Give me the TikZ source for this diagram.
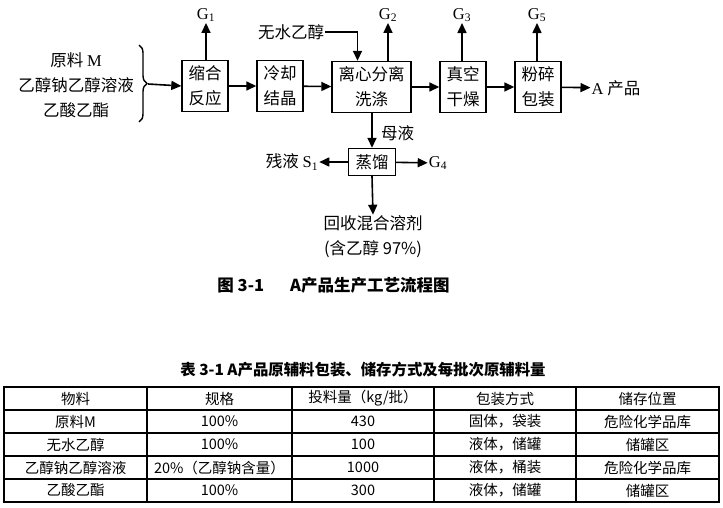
\documentclass[tikz,border=0pt]{standalone}
\usepackage{fontspec}
\setmainfont{Noto Sans CJK SC}
\newfontfamily\lat{Liberation Serif}
\usetikzlibrary{arrows.meta,decorations.pathreplacing}

\begin{document}
\begin{tikzpicture}[x=1pt,y=-1pt,
  box/.style={draw, line width=1.4pt, minimum width=46pt, minimum height=51pt, inner sep=0pt, align=center, font=\fontsize{16.5}{25}\selectfont},
  txt/.style={inner sep=1pt, align=center, font=\fontsize{16.5}{25}\selectfont},
  cell/.style={inner sep=0pt, font=\fontsize{14.5}{16}\selectfont},
  arr/.style={-{Triangle[length=10pt,width=9pt]}, line width=1.6pt}]
\useasboundingbox (0,0) rectangle (723,508);

% Process boxes
\node[box] (b1) at (205,86) {缩合\\反应};
\node[box] (b2) at (280,86) {冷却\\结晶};
\node[box, minimum width=79pt] (b3) at (371.5,87) {离心分离\\洗涤};
\node[box] (b4) at (463,87) {真空\\干燥};
\node[box] (b5) at (538,87) {粉碎\\包装};
\node[box, minimum width=47pt, minimum height=27pt] (d) at (372,162) {蒸馏};

% Inputs and outputs
\node[txt] (raw) at (76,85) {原料 {\lat M}\\乙醇钠乙醇溶液\\乙酸乙酯};
\coordinate (tip) at (148,84);
\node[txt] (w) at (291,32) {无水乙醇};
\node[txt] (g1) at (206,15) {\lat G\textsubscript{1}};
\node[txt] (g2) at (388,15) {\lat G\textsubscript{2}};
\node[txt] (g3) at (462,15) {\lat G\textsubscript{3}};
\node[txt] (g5) at (537,15) {\lat G\textsubscript{5}};
\node[txt] (pa) at (616,88) {{\lat A} 产品};
\node[txt, anchor=west] (ml) at (380,133) {母液};
\node[txt] (s1) at (292,162) {残液 {\lat S\textsubscript{1}}};
\node[txt] (g4) at (438,163) {\lat G\textsubscript{4}};
\node[txt] (rec) at (373,237) {回收混合溶剂\\(含乙醇 97\%)};

% Caption
\node[font=\bfseries\fontsize{16.5}{18}\selectfont] (cap) at (333.5,285) {图 3-1\hspace{26pt}A产品生产工艺流程图};

%Lines
\draw[decorate, decoration={brace, amplitude=8pt}, line width=1.4pt] (139,45) -- (139,122);
\draw[arr] (tip) -- (b1.west);
\draw[arr] (b1) -- (b2);
\draw[arr] (b2) -- (b3);
\draw[arr] (b3) -- (b4);
\draw[arr] (b4) -- (b5);
\draw[arr] (b5) -- (pa);
\draw[arr] (b1.north -| g1) -- (g1.south);
\draw[arr] (b3.north -| g2) -- (g2.south);
\draw[arr] (b4.north -| g3) -- (g3.south);
\draw[arr] (b5.north -| g5) -- (g5.south);
\draw[arr] (w.east) -| ([xshift=-14pt]b3.north);
\draw[arr] (b3.south -| d) -- (d.north);
\draw[arr] (d) -- (s1);
\draw[arr] (d) -- (g4);
\draw[arr] (d.south) -- (rec.north);

% Table
\node[font=\bfseries\fontsize{15.4}{17}\selectfont] (tt) at (363,370) {表 3-1 A产品原辅料包装、储存方式及每批次原辅料量};
\draw[line width=1.5pt] (4,387) rectangle (719,502);
\draw[line width=1.2pt] (4,410) -- (719,410);
\draw[line width=1.2pt] (4,433) -- (719,433);
\draw[line width=1.2pt] (4,456) -- (719,456);
\draw[line width=1.2pt] (4,479) -- (719,479);
\draw[line width=1.2pt] (147,387) -- (147,502);
\draw[line width=1.2pt] (292,387) -- (292,502);
\draw[line width=1.2pt] (434,387) -- (434,502);
\draw[line width=1.2pt] (576,387) -- (576,502);

\node[cell] (h1) at (75.5,398.5) {物料};
\node[cell] (h2) at (219.5,398.5) {规格};
\node[cell] (h3) at (363,398.5) {投料量（kg/批）};
\node[cell] (h4) at (505,398.5) {包装方式};
\node[cell] (h5) at (647.5,398.5) {储存位置};
\node[cell] (m1) at (75.5,421.5) {原料M};
\node[cell] (m2) at (219.5,421.5) {100\%};
\node[cell] (m3) at (363,421.5) {430};
\node[cell] (m4) at (505,421.5) {固体，袋装};
\node[cell] (m5) at (647.5,421.5) {危险化学品库};
\node[cell] (e1) at (75.5,444.5) {无水乙醇};
\node[cell] (e2) at (219.5,444.5) {100\%};
\node[cell] (e3) at (363,444.5) {100};
\node[cell] (e4) at (505,444.5) {液体，储罐};
\node[cell] (e5) at (647.5,444.5) {储罐区};
\node[cell] (n1) at (75.5,467.5) {乙醇钠乙醇溶液};
\node[cell] (n2) at (219.5,467.5) {20\%（乙醇钠含量）};
\node[cell] (n3) at (363,467.5) {1000};
\node[cell] (n4) at (505,467.5) {液体，桶装};
\node[cell] (n5) at (647.5,467.5) {危险化学品库};
\node[cell] (a1) at (75.5,490.5) {乙酸乙酯};
\node[cell] (a2) at (219.5,490.5) {100\%};
\node[cell] (a3) at (363,490.5) {300};
\node[cell] (a4) at (505,490.5) {液体，储罐};
\node[cell] (a5) at (647.5,490.5) {储罐区};
\end{tikzpicture}
\end{document}
